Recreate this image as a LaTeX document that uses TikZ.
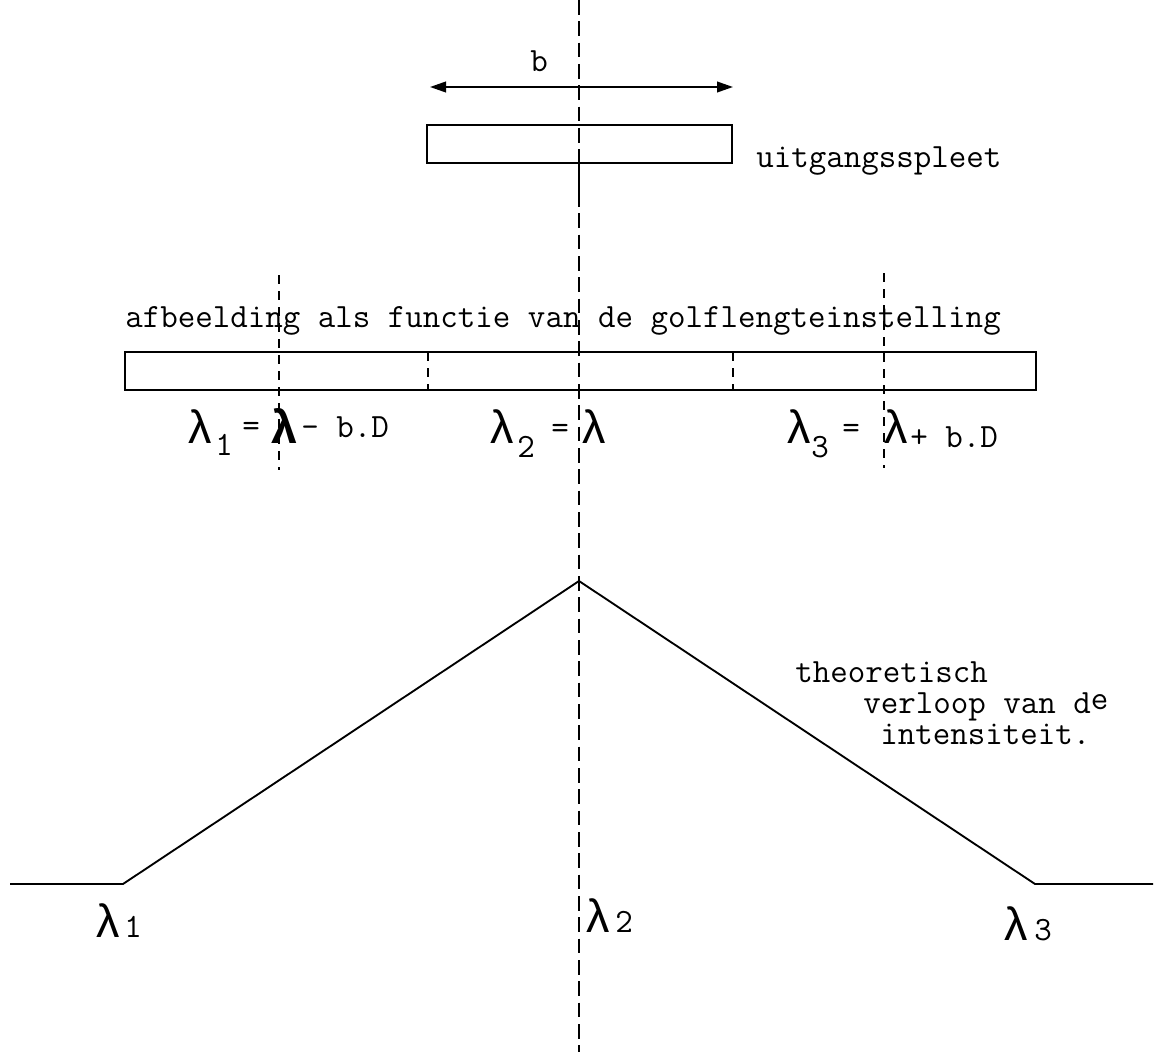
\documentclass[tikz,border=0pt]{standalone}
\usepackage{fontspec}
\usetikzlibrary{arrows.meta}
\newfontfamily\lamfont{Liberation Sans}
\newcommand{\twfont}{\fontsize{25.5}{30}\selectfont\ttfamily}
\newcommand{\biglam}{\fontsize{35}{40}\selectfont\lamfont λ}
\newcommand{\bigbflam}{\fontsize{35}{40}\selectfont\lamfont\bfseries λ}
\tikzset{
  txt/.style={inner sep=0pt, anchor=base west, font=\twfont},
  lam/.style={inner sep=0pt, anchor=base west},
  boxline/.style={line width=1.8pt},
  curve/.style={line width=1.4pt, line join=round},
  mainaxis/.style={line width=1.2pt, dash pattern=on 11pt off 5pt},
  aux/.style={line width=1.2pt, dash pattern=on 7pt off 5pt},
}
\begin{document}
\begin{tikzpicture}[x=0.75pt,y=-0.75pt]
\useasboundingbox (0,0) rectangle (1161,1056);

% coordinates
\coordinate (axT) at (579,0);
\coordinate (axB) at (579,1052);
\coordinate (slitBot) at (579,162);
\coordinate (slitSolid) at (579,195);
\coordinate (bL) at (430,87);
\coordinate (bR) at (733,87);
\coordinate (p0) at (10,884);
\coordinate (p1) at (123,884);
\coordinate (peak) at (579,581);
\coordinate (p3) at (1035,884);
\coordinate (p4) at (1153,884);
\coordinate (l1T) at (279,275);
\coordinate (l1B) at (279,470);
\coordinate (l3T) at (884,273);
\coordinate (l3B) at (884,468);
\coordinate (d1T) at (428,352);
\coordinate (d1B) at (428,390);
\coordinate (d2T) at (733,352);
\coordinate (d2B) at (733,390);

% central axis
\draw[mainaxis] (axT) -- (axB);
\draw[line width=1.2pt] (slitBot) -- (slitSolid);

% b arrow
\draw[line width=1.4pt, {Triangle[length=12pt,width=8pt]}-{Triangle[length=12pt,width=8pt]}] (bL) -- (bR);
\node[txt] (b) at (530,72) {b};

% slit
\draw[boxline] (427,125) rectangle (732,163);
\node[txt] (slitlbl) at (756,167) {uitgangsspleet};

% image strip
\node[txt] (title) at (125,327) {afbeelding als functie van de golflengteinstelling};
\draw[boxline] (125,352) rectangle (1036,390);
\draw[aux] (d1T) -- (d1B);
\draw[aux] (d2T) -- (d2B);
\draw[aux] (l1T) -- (l1B);
\draw[aux] (l3T) -- (l3B);

% labels row
\node[lam] (la1) at (188,443) {\biglam};
\node[txt] (la1s) at (215,455) {1};
\node[txt] (la1e) at (242,436) {=};
\node[lam] (la1l) at (271,443) {\bigbflam};
\node[txt] (la1r) at (301,437) {- b.D};

\node[lam] (la2) at (490,443) {\biglam};
\node[txt] (la2s) at (517,457) {2};
\node[txt] (la2e) at (551,438) {=};
\node[lam] (la2l) at (582,443) {\biglam};

\node[lam] (la3) at (787,443) {\biglam};
\node[txt] (la3s) at (811,457) {3};
\node[txt] (la3e) at (842,438) {=};
\node[lam] (la3l) at (884,443) {\biglam};
\node[txt] (la3r) at (910,447) {+ b.D};

% intensity curve
\draw[curve] (p0) -- (p1) -- (peak) -- (p3) -- (p4);

\node[txt] (t1) at (795,682) {theoretisch};
\node[txt, text depth=0pt] (t2) at (863,713) {verloop van d\raisebox{3pt}{e}};
\node[txt] (t3) at (880,744) {intensiteit.};

% bottom labels
\node[lam] (b1) at (96,937) {\biglam};
\node[txt] (b1s) at (124,937) {1};
\node[lam] (b2) at (586,932) {\biglam};
\node[txt] (b2s) at (615,932) {2};
\node[lam] (b3) at (1004,940) {\biglam};
\node[txt] (b3s) at (1034,940) {3};
\end{tikzpicture}
\end{document}
